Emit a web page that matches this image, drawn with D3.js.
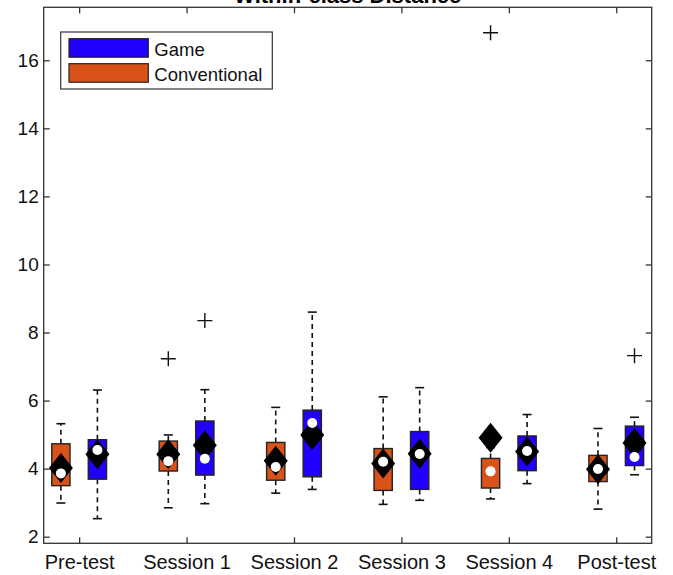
<!DOCTYPE html>
<html>
<head>
<meta charset="utf-8">
<script src="https://cdn.jsdelivr.net/npm/d3@7"></script>
<style>
  body { margin: 0; background: #fff; }
  text { font-family: "Liberation Sans", Arial, Helvetica, sans-serif; }
</style>
</head>
<body>
<div id="chart"></div>
<script>
// categories along the x axis
var sessions = ["Pre-test", "Session 1", "Session 2", "Session 3", "Session 4", "Post-test"];
var yTicks = [2, 4, 6, 8, 10, 12, 14, 16];

// Game group (blue)
var gameQ1      = [3.69, 3.81, 3.76, 3.39, 3.94, 4.09];
var gameQ3      = [4.85, 5.40, 5.72, 5.09, 4.96, 5.25];
var gameLo      = [2.53, 2.97, 3.39, 3.07, 3.56, 3.82];
var gameHi      = [6.31, 6.32, 8.60, 6.38, 5.59, 5.51];
var gameMean    = [4.42, 4.69, 4.99, 4.44, 4.50, 4.75];
var gameMedian  = [4.55, 4.29, 5.34, 4.43, 4.52, 4.34];
var gameOut     = [[], [8.35], [], [], [], [7.32]];

// Conventional group (orange)
var convQ1      = [3.50, 3.93, 3.66, 3.36, 3.43, 3.62];
var convQ3      = [4.73, 4.81, 4.77, 4.59, 4.30, 4.39];
var convLo      = [2.99, 2.85, 3.28, 2.95, 3.11, 2.81];
var convHi      = [5.32, 4.99, 5.80, 6.11, 4.62, 5.18];
var convMean    = [4.02, 4.42, 4.23, 4.15, 4.91, 3.98];
var convMedian  = [3.86, 4.22, 4.05, 4.20, 3.92, 3.99];
var convOut     = [[], [7.23], [], [], [16.81], []];

var groups = [
  {name: "Conventional", color: "#d95319", offset: -0.17,
   q1: convQ1, q3: convQ3, lo: convLo, hi: convHi, mean: convMean, median: convMedian, out: convOut},
  {name: "Game", color: "#2200ff", offset: 0.17,
   q1: gameQ1, q3: gameQ3, lo: gameLo, hi: gameHi, mean: gameMean, median: gameMedian, out: gameOut}
];

var W = 673, H = 575;
var L = 43.7, R = 651.7, T = 7.3, B = 543.3;
var axisColor = "#333";

var svg = d3.select("#chart").append("svg")
  .attr("width", W).attr("height", H);

var x = d3.scaleLinear().domain([0.67, 6.33]).range([L, R]);
var y = d3.scaleLinear().domain([1.806, 17.557]).range([B, T]);
var boxW = x(0.17) - x(0);
var capW = 9;

// title (partly cut off at the top, like the figure)
svg.append("text")
  .attr("x", (L + R) / 2).attr("y", 3)
  .attr("text-anchor", "middle")
  .style("font-size", "22px").style("font-weight", "bold")
  .text("Within-class Distance");

// boxes
groups.forEach(function(g){
  var gg = svg.append("g").attr("class", "group-" + g.name);
  sessions.forEach(function(s, i){
    var cx = x(i + 1 + g.offset);

    // whiskers
    [[g.q3[i], g.hi[i]], [g.q1[i], g.lo[i]]].forEach(function(w){
      gg.append("line")
        .attr("x1", cx).attr("x2", cx)
        .attr("y1", y(w[0])).attr("y2", y(w[1]))
        .attr("stroke", "#111").attr("stroke-width", 1.6)
        .attr("stroke-dasharray", "5,4");
      gg.append("line")
        .attr("x1", cx - capW / 2).attr("x2", cx + capW / 2)
        .attr("y1", y(w[1])).attr("y2", y(w[1]))
        .attr("stroke", "#111").attr("stroke-width", 1.6);
    });

    gg.append("rect")
      .attr("x", cx - boxW / 2).attr("width", boxW)
      .attr("y", y(g.q3[i])).attr("height", y(g.q1[i]) - y(g.q3[i]))
      .attr("fill", g.color).attr("stroke", "#222").attr("stroke-width", 1.4);

    // outliers
    g.out[i].forEach(function(v){
      gg.append("path")
        .attr("d", "M" + (cx - 7.5) + "," + y(v) + "h15M" + cx + "," + (y(v) - 7.5) + "v15")
        .attr("stroke", "#111").attr("stroke-width", 1.4).attr("fill", "none");
    });
  });
});

// mean diamonds and median dots on top
groups.forEach(function(g){
  sessions.forEach(function(s, i){
    var cx = x(i + 1 + g.offset);
    var my = y(g.mean[i]);
    svg.append("path")
      .attr("d", "M" + cx + "," + (my - 15) + "L" + (cx + 12) + "," + my +
                 "L" + cx + "," + (my + 15) + "L" + (cx - 12) + "," + my + "Z")
      .attr("fill", "#000");
    svg.append("circle")
      .attr("cx", cx).attr("cy", y(g.median[i])).attr("r", 5)
      .attr("fill", "#fff");
  });
});

// axes (ticks point inward, mirrored on top/right)
var xTickVals = d3.range(1, sessions.length + 1);

svg.append("g").attr("class", "x-axis").attr("transform", "translate(0," + B + ")")
  .call(d3.axisBottom(x).tickValues(xTickVals).tickSize(-6).tickPadding(12)
    .tickFormat(function(d){ return sessions[d - 1]; }));
svg.append("g").attr("transform", "translate(0," + T + ")")
  .call(d3.axisTop(x).tickValues(xTickVals).tickSize(-6).tickFormat(""));

svg.append("g").attr("class", "y-axis").attr("transform", "translate(" + L + ",0)")
  .call(d3.axisLeft(y).tickValues(yTicks).tickSize(-6).tickPadding(5));
svg.append("g").attr("transform", "translate(" + R + ",0)")
  .call(d3.axisRight(y).tickValues(yTicks).tickSize(-6).tickFormat(""));

svg.selectAll(".domain").remove();
svg.selectAll(".tick line").attr("stroke", axisColor).attr("stroke-width", 1.3);
svg.selectAll(".tick text").attr("fill", "#111")
  .style("font-family", "'Liberation Sans', Arial, sans-serif");
svg.selectAll(".y-axis .tick text").style("font-size", "19px");
svg.selectAll(".x-axis .tick text").style("font-size", "20px");

svg.append("rect")
  .attr("x", L).attr("y", T).attr("width", R - L).attr("height", B - T)
  .attr("fill", "none").attr("stroke", axisColor).attr("stroke-width", 1.3);

// legend
var leg = svg.append("g");
leg.append("rect")
  .attr("x", 60.7).attr("y", 32).attr("width", 211.6).attr("height", 57)
  .attr("fill", "#fff").attr("stroke", axisColor).attr("stroke-width", 1.2);
[groups[1], groups[0]].forEach(function(g, k){
  var top = k === 0 ? 38.7 : 63.7;
  leg.append("rect")
    .attr("x", 69).attr("y", top).attr("width", 79.3).attr("height", 18.5)
    .attr("fill", g.color).attr("stroke", "#222").attr("stroke-width", 1.2);
  leg.append("text")
    .attr("x", 154.3).attr("y", top + 17)
    .style("font-size", "18.5px").attr("fill", "#111")
    .text(g.name);
});
</script>
</body>
</html>
